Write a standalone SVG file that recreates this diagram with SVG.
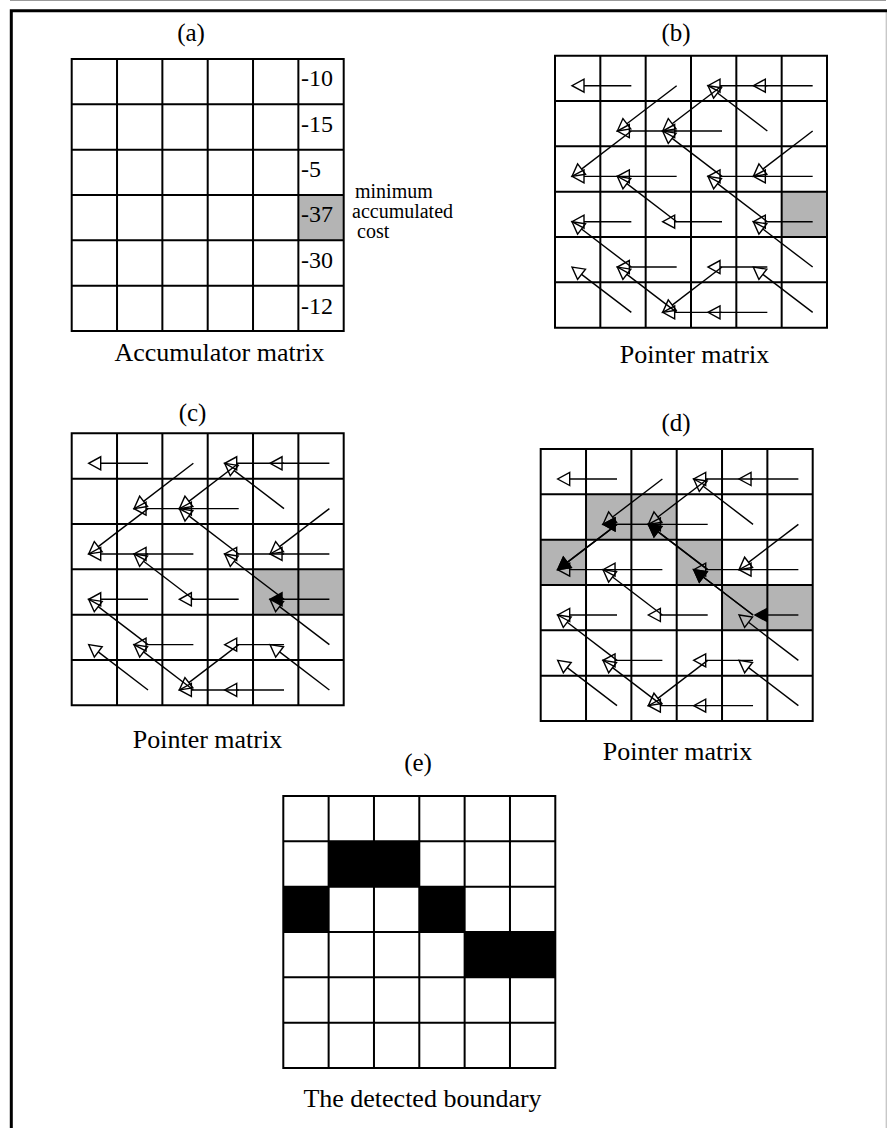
<svg xmlns="http://www.w3.org/2000/svg" xmlns:xlink="http://www.w3.org/1999/xlink" width="887" height="1128" viewBox="0 0 887 1128">
<style>
.t{font-family:"Liberation Serif","Times New Roman",serif;fill:#000}
.lab{font-size:25px;text-anchor:middle}
.cap{font-size:26px;text-anchor:middle}
.num{font-size:24px}
.note{font-size:20px}
.g{stroke:#000;stroke-width:2;fill:none}
.sh{fill:#b4b4b4}
.bk{fill:#000}
.a line,line.a{stroke:#000;stroke-width:1.4;fill:none;marker-end:url(#ho)}
line.f{stroke:#000;stroke-width:1.4;marker-end:url(#hf)}
</style>
<defs>
<marker id="ho" markerUnits="userSpaceOnUse" markerWidth="18" markerHeight="18" refX="2" refY="9" orient="auto" overflow="visible">
<path d="M2,2.5 L14,9 L2,15.5 Z" fill="none" stroke="#000" stroke-width="1.4"/>
</marker>
<marker id="hf" markerUnits="userSpaceOnUse" markerWidth="18" markerHeight="18" refX="2" refY="9" orient="auto" overflow="visible">
<path d="M2,2.5 L14,9 L2,15.5 Z" fill="#000" stroke="#000" stroke-width="1.4"/>
</marker>
<g id="grid"><path class="g" d="M0,0H272V272H0Z M45.33,0V272 M90.67,0V272 M136,0V272 M181.33,0V272 M226.67,0V272 M0,45.33H272 M0,90.67H272 M0,136H272 M0,181.33H272 M0,226.67H272"/></g>
<g id="ptrs" class="a">
<line x1="76.33" y1="30" x2="29" y2="30"/>
<line x1="121.67" y1="30" x2="71.87" y2="68.05"/>
<line x1="167" y1="30" x2="117.2" y2="68.05"/>
<line x1="212.33" y1="30" x2="165" y2="30"/>
<line x1="257.67" y1="30" x2="210.33" y2="30"/>
<line x1="76.33" y1="75.33" x2="26.54" y2="113.38"/>
<line x1="121.67" y1="75.33" x2="74.33" y2="75.33"/>
<line x1="167" y1="75.33" x2="119.67" y2="75.33"/>
<line x1="212.33" y1="75.33" x2="162.54" y2="37.29"/>
<line x1="257.67" y1="75.33" x2="207.87" y2="113.38"/>
<line x1="76.33" y1="120.67" x2="29" y2="120.67"/>
<line x1="121.67" y1="120.67" x2="74.33" y2="120.67"/>
<line x1="167" y1="120.67" x2="117.2" y2="82.62"/>
<line x1="212.33" y1="120.67" x2="165" y2="120.67"/>
<line x1="257.67" y1="120.67" x2="210.33" y2="120.67"/>
<line x1="76.33" y1="166" x2="29" y2="166"/>
<line x1="121.67" y1="166" x2="71.87" y2="127.95"/>
<line x1="167" y1="166" x2="119.67" y2="166"/>
<line x1="212.33" y1="166" x2="162.54" y2="127.95"/>
<line x1="76.33" y1="211.33" x2="26.54" y2="173.29"/>
<line x1="121.67" y1="211.33" x2="74.33" y2="211.33"/>
<line x1="167" y1="211.33" x2="117.2" y2="249.38"/>
<line x1="212.33" y1="211.33" x2="165" y2="211.33"/>
<line x1="257.67" y1="211.33" x2="207.87" y2="173.29"/>
<line x1="76.33" y1="256.67" x2="26.54" y2="218.62"/>
<line x1="121.67" y1="256.67" x2="71.87" y2="218.62"/>
<line x1="167" y1="256.67" x2="119.67" y2="256.67"/>
<line x1="212.33" y1="256.67" x2="165" y2="256.67"/>
<line x1="257.67" y1="256.67" x2="207.87" y2="218.62"/>
</g>
</defs>
<rect width="887" height="1128" fill="#fff"/>
<g id="frame">
<line x1="10" y1="0.5" x2="886" y2="0.5" stroke="#9a9a9a" stroke-width="1"/>
<line x1="886.3" y1="12" x2="886.3" y2="1128" stroke="#c8c8c8" stroke-width="1.4"/>
<path d="M887,10.8 H11.3 V1128" fill="none" stroke="#000" stroke-width="3"/>
</g>
<g id="panel-a">
<text class="t lab" x="191" y="41">(a)</text>
<rect class="sh" x="298.37" y="195" width="45.33" height="45.33"/>
<use xlink:href="#grid" href="#grid" transform="translate(71.7,59)"/>
<text class="t num" x="301" y="85.5">-10</text>
<text class="t num" x="301" y="131.5">-15</text>
<text class="t num" x="301" y="177">-5</text>
<text class="t num" x="301" y="222">-37</text>
<text class="t num" x="301" y="268">-30</text>
<text class="t num" x="301" y="314">-12</text>
<text class="t note" x="355" y="198">minimum</text>
<text class="t note" x="352" y="218">accumulated</text>
<text class="t note" x="357" y="238">cost</text>
<text class="t cap" x="219.5" y="361">Accumulator matrix</text>
</g>
<g id="panel-b">
<text class="t lab" x="676" y="41">(b)</text>
<rect class="sh" x="781.67" y="191.7" width="45.33" height="45.33"/>
<use xlink:href="#grid" href="#grid" transform="translate(555,55.7)"/>
<text class="t cap" x="694.5" y="363">Pointer matrix</text>
</g>
<g id="panel-c">
<text class="t lab" x="192.5" y="421">(c)</text>
<rect class="sh" x="253.03" y="569.3" width="90.67" height="45.33"/>
<use xlink:href="#grid" href="#grid" transform="translate(71.7,433.3)"/>
<text class="t cap" x="207.5" y="748">Pointer matrix</text>
</g>
<g id="panel-d">
<text class="t lab" x="676" y="431">(d)</text>
<g transform="translate(540.7,449)">
<rect class="sh" x="45.33" y="45.33" width="90.67" height="45.33"/>
<rect class="sh" x="0" y="90.67" width="45.33" height="45.33"/>
<rect class="sh" x="136" y="90.67" width="45.33" height="45.33"/>
<rect class="sh" x="181.33" y="136" width="90.67" height="45.33"/>
</g>
<use xlink:href="#grid" href="#grid" transform="translate(540.7,449)"/>
<text class="t cap" x="677.5" y="760">Pointer matrix</text>
</g>
<g id="panel-e">
<text class="t lab" x="418" y="771">(e)</text>
<g transform="translate(283.3,796)">
<rect class="bk" x="45.33" y="45.33" width="90.67" height="45.33"/>
<rect class="bk" x="0" y="90.67" width="45.33" height="45.33"/>
<rect class="bk" x="136" y="90.67" width="45.33" height="45.33"/>
<rect class="bk" x="181.33" y="136" width="90.67" height="45.33"/>
</g>
<use xlink:href="#grid" href="#grid" transform="translate(283.3,796)"/>
<text class="t cap" x="422.5" y="1107">The detected boundary</text>
</g>
<g id="connectors">
<g id="arrows-b" transform="translate(555,55.7)">
<use xlink:href="#ptrs" href="#ptrs"/>
<line class="a" x1="257.67" y1="166" x2="210.33" y2="166"/>
</g>
<g id="arrows-c" transform="translate(71.7,433.3)">
<use xlink:href="#ptrs" href="#ptrs"/>
<line class="f" x1="257.67" y1="166" x2="210.33" y2="166"/>
</g>
<g id="arrows-d" transform="translate(540.7,449)">
<use xlink:href="#ptrs" href="#ptrs"/>
<line class="f" x1="257.67" y1="166" x2="226.3" y2="166"/>
<line class="f" x1="212.33" y1="166" x2="162.54" y2="127.95"/>
<line class="f" x1="167" y1="120.67" x2="117.2" y2="82.62"/>
<line class="f" x1="121.67" y1="75.33" x2="74.33" y2="75.33"/>
<line class="f" x1="76.33" y1="75.33" x2="26.54" y2="113.38"/>
</g>
</g>
</svg>
